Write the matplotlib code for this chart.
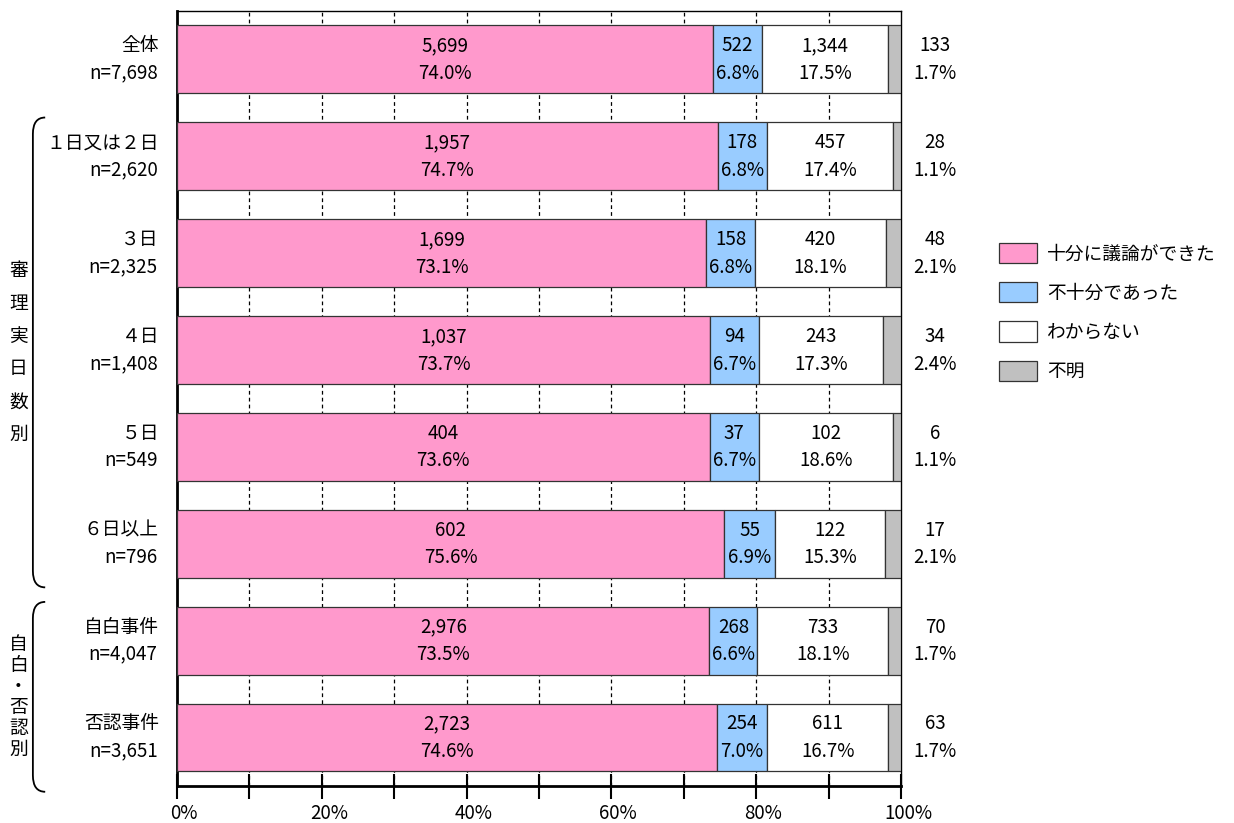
import numpy as np
import matplotlib
matplotlib.use("Agg")
from matplotlib import pyplot as plt
from matplotlib import transforms
from matplotlib.patches import Patch, PathPatch
from matplotlib.path import Path

plt.rcParams['font.family'] = ['Noto Sans CJK JP', 'DejaVu Sans']

# 区分ごとの件数
categories = ["全体", "１日又は２日", "３日", "４日", "５日", "６日以上", "自白事件", "否認事件"]
enough = [5699, 1957, 1699, 1037, 404, 602, 2976, 2723]
not_enough = [522, 178, 158, 94, 37, 55, 268, 254]
unknown = [1344, 457, 420, 243, 102, 122, 733, 611]
no_answer = [133, 28, 48, 34, 6, 17, 70, 63]

series_names = ["十分に議論ができた", "不十分であった", "わからない", "不明"]
colors = ["#FF99CC", "#99CCFF", "#FFFFFF", "#C0C0C0"]

groups = [("審理実日数別", 1, 5, 33), ("自白・否認別", 6, 7, 21)]

FS = 13.5


def main():
    counts = np.array([enough, not_enough, unknown, no_answer], dtype=float)
    totals = counts.sum(axis=0)
    pct = counts / totals * 100

    fig = plt.figure(figsize=(12.34, 8.23), dpi=100)
    ax = fig.add_axes([0.1434, 0.0450, 0.5867, 0.9417])

    y = np.arange(len(categories))
    left = np.zeros(len(categories))
    for k in range(4):
        ax.barh(y, pct[k], left=left, height=0.7, color=colors[k],
                edgecolor="#333333", linewidth=0.9, zorder=3)
        for i in range(len(categories)):
            if k < 3:
                xc = left[i] + pct[k, i] / 2
            else:
                xc = 104.7
            ax.text(xc, y[i] - 0.14, "{:,}".format(int(counts[k, i])),
                    ha="center", va="center", fontsize=FS, zorder=5, clip_on=False)
            ax.text(xc, y[i] + 0.145, "{:.1f}%".format(pct[k, i]),
                    ha="center", va="center", fontsize=FS, zorder=5, clip_on=False)
        left += pct[k]

    # カテゴリ名と n
    for i, name in enumerate(categories):
        ax.annotate(name, xy=(0, y[i] - 0.14), xycoords=("axes fraction", "data"),
                    xytext=(-13, 0), textcoords="offset points", ha="right",
                    va="center", fontsize=FS, annotation_clip=False)
        ax.annotate("n={:,}".format(int(totals[i])), xy=(0, y[i] + 0.14),
                    xycoords=("axes fraction", "data"), xytext=(-14, 0),
                    textcoords="offset points", ha="right", va="center",
                    fontsize=FS, annotation_clip=False)

    ax.set_xlim(0, 100)
    ax.set_ylim(len(categories) - 0.5, -0.5)
    ax.set_yticks([])
    ax.set_xticks(np.arange(0, 101, 20))
    ax.set_xticks(np.arange(0, 101, 10), minor=True)
    ax.set_xticklabels(["{}%".format(v) for v in range(0, 101, 20)], fontsize=FS)
    ax.tick_params(axis="x", which="both", direction="inout", length=18,
                   width=1.5, pad=3)
    shift = transforms.ScaledTranslation(7 / 100, 0, fig.dpi_scale_trans)
    for lab in ax.get_xticklabels():
        lab.set_transform(lab.get_transform() + shift)
    for v in range(10, 100, 10):
        ax.axvline(v, color="black", linestyle=(0, (3, 2.5)), linewidth=0.9, zorder=1)

    ax.spines["left"].set_linewidth(2)
    ax.spines["bottom"].set_linewidth(2)
    ax.spines["top"].set_linewidth(1)
    ax.spines["right"].set_linewidth(1)

    # グループの括弧と縦書きラベル
    tr = ax.get_yaxis_transform()
    for label, first, last, step in groups:
        y0 = first - 0.4
        y1 = last + 0.45 if last < 7 else last + 0.56
        xt, xv, r = -0.182, -0.199, 0.17
        verts = [(xt, y0), (xv, y0), (xv, y0 + r),
                 (xv, y1 - r), (xv, y1), (xt, y1)]
        codes = [Path.MOVETO, Path.CURVE3, Path.CURVE3,
                 Path.LINETO, Path.CURVE3, Path.CURVE3]
        ax.add_patch(PathPatch(Path(verts, codes), transform=tr, fill=False,
                               edgecolor="black", linewidth=1.3, clip_on=False))
        mid = (y0 + y1) / 2
        n = len(label)
        for j, ch in enumerate(label):
            dy = (j - (n - 1) / 2) * step / 97.0
            ax.text(-0.219, mid + dy, ch, ha="center", va="center",
                    fontsize=FS, transform=tr, clip_on=False)

    handles = [Patch(facecolor=c, edgecolor="#333333", linewidth=0.9) for c in colors]
    fig.legend(handles, series_names, loc="upper left",
               bbox_to_anchor=(0.8096, 0.7047), frameon=False, fontsize=FS,
               handlelength=2.03, handleheight=1.28, handletextpad=0.55,
               labelspacing=0.95, borderpad=0, borderaxespad=0)

    fig.savefig("out.png", dpi=100)


if __name__ == "__main__":
    main()
